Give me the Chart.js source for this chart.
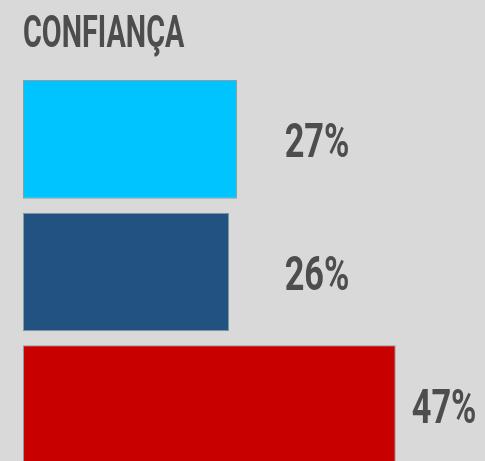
<!DOCTYPE html>
<html>
<head>
<meta charset="utf-8">
<script src="https://cdn.jsdelivr.net/npm/chart.js@4"></script>
<style>
    html, body { margin: 0; padding: 0; background: #d9d9d9; overflow: hidden; }
    #wrap { width: 485px; height: 480px; }
</style>
</head>
<body>
<div id="wrap"><canvas id="confianca"></canvas></div>
<script>
'use strict';

const titulo = 'CONFIANÇA';
const categorias = ['Confia', 'Confia pouco', 'Não confia'];
const valores = [27, 26, 47];
const cores = ['#00c4ff', '#215282', '#c80000'];

const TEXTO = '#4d4d4d';
const FAMILIA = 'Roboto, "DejaVu Sans", sans-serif';

// Fundo cinza do gráfico
const fundo = {
    id: 'fundo',
    beforeDraw: (chart) => {
        const ctx = chart.ctx;
        ctx.save();
        ctx.fillStyle = '#d9d9d9';
        ctx.fillRect(0, 0, chart.width, chart.height);
        ctx.restore();
    }
};

// Escreve texto condensado (comprimido na horizontal) a partir de (x, y)
function textoEstreito(ctx, texto, x, y, tamanho, estreito) {
    ctx.save();
    ctx.font = `bold ${tamanho}px ${FAMILIA}`;
    ctx.fillStyle = TEXTO;
    ctx.textBaseline = 'alphabetic';
    ctx.textAlign = 'left';
    ctx.translate(x, y);
    ctx.scale(estreito, 1);
    ctx.fillText(texto, 0, 0);
    ctx.restore();
}

// Título e percentuais ao lado das barras
const rotulos = {
    id: 'rotulos',
    afterDatasetsDraw: (chart) => {
        const ctx = chart.ctx;
        const xScale = chart.scales.x;
        textoEstreito(ctx, titulo, chart.chartArea.left, 47, 45, 0.64);

        // os rótulos ficam numa coluna, a menos que a barra passe dela
        const coluna = xScale.getPixelForValue(33);
        chart.getDatasetMeta(0).data.forEach((bar, i) => {
            const x = Math.max(bar.x + 16, coluna);
            textoEstreito(ctx, valores[i] + '%', x, bar.y + 18, 49, 0.7);
        });
    }
};

new Chart(document.getElementById('confianca').getContext('2d'), {
    type: 'bar',
    data: {
        labels: categorias,
        datasets: [{
            data: valores,
            backgroundColor: cores,
            borderColor: '#8a9e9e',
            borderWidth: 1,
            borderSkipped: false,
            categoryPercentage: 1,
            barPercentage: 0.895
        }]
    },
    options: {
        indexAxis: 'y',
        responsive: true,
        maintainAspectRatio: false,
        animation: false,
        layout: {
            padding: { left: 23, right: 10, top: 73, bottom: 9 }
        },
        scales: {
            x: { display: false, min: 0, max: 57 },
            y: { display: false }
        },
        plugins: {
            legend: { display: false },
            tooltip: { enabled: false }
        }
    },
    plugins: [fundo, rotulos]
});
</script>
</body>
</html>
